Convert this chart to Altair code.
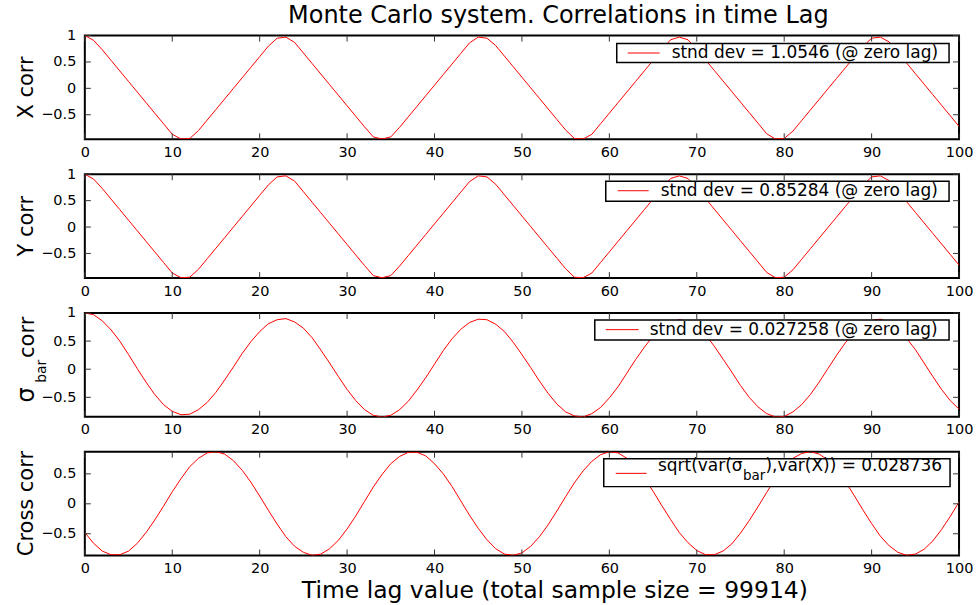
import altair as alt
import pandas as pd

# ---------------- data ----------------
x_corr = [
    1.00, 0.91, 0.73, 0.53, 0.33, 0.13, -0.07, -0.27, -0.47, -0.67,
    -0.87, -0.96, -0.95, -0.80, -0.60, -0.40, -0.20, 0.00, 0.20, 0.40,
    0.60, 0.80, 0.95, 0.97, 0.87, 0.67, 0.47, 0.27, 0.07, -0.13,
    -0.33, -0.53, -0.73, -0.92, -0.96, -0.92, -0.74, -0.54, -0.34, -0.14,
    0.06, 0.26, 0.46, 0.66, 0.86, 0.97, 0.95, 0.81, 0.61, 0.41,
    0.21, 0.01, -0.19, -0.39, -0.59, -0.79, -0.95, -0.96, -0.87, -0.67,
    -0.47, -0.27, -0.07, 0.13, 0.33, 0.53, 0.73, 0.92, 0.97, 0.92,
    0.74, 0.54, 0.34, 0.14, -0.06, -0.26, -0.46, -0.66, -0.86, -0.96,
    -0.95, -0.81, -0.61, -0.41, -0.21, -0.01, 0.19, 0.39, 0.59, 0.79,
    0.95, 0.97, 0.88, 0.68, 0.48, 0.28, 0.08, -0.12, -0.32, -0.52,
    -0.72,
]
y_corr = [
    1.00, 0.91, 0.73, 0.53, 0.33, 0.13, -0.07, -0.27, -0.47, -0.67,
    -0.87, -0.96, -0.95, -0.80, -0.60, -0.40, -0.20, 0.00, 0.20, 0.40,
    0.60, 0.80, 0.95, 0.97, 0.87, 0.67, 0.47, 0.27, 0.07, -0.13,
    -0.33, -0.53, -0.73, -0.92, -0.96, -0.92, -0.74, -0.54, -0.34, -0.14,
    0.06, 0.26, 0.46, 0.66, 0.86, 0.97, 0.95, 0.81, 0.61, 0.41,
    0.21, 0.01, -0.19, -0.39, -0.59, -0.79, -0.95, -0.96, -0.87, -0.67,
    -0.47, -0.27, -0.07, 0.13, 0.33, 0.53, 0.73, 0.92, 0.97, 0.92,
    0.74, 0.54, 0.34, 0.14, -0.06, -0.26, -0.46, -0.66, -0.86, -0.96,
    -0.95, -0.81, -0.61, -0.41, -0.21, -0.01, 0.19, 0.39, 0.59, 0.79,
    0.95, 0.97, 0.88, 0.68, 0.48, 0.28, 0.08, -0.12, -0.32, -0.52,
    -0.72,
]
sigma_corr = [
    1.00, 0.97, 0.86, 0.70, 0.50, 0.26, 0.01, -0.23, -0.45, -0.63,
    -0.75, -0.81, -0.80, -0.72, -0.59, -0.41, -0.19, 0.04, 0.28, 0.49,
    0.67, 0.81, 0.88, 0.90, 0.84, 0.73, 0.56, 0.34, 0.11, -0.13,
    -0.36, -0.56, -0.72, -0.82, -0.85, -0.82, -0.72, -0.57, -0.37, -0.15,
    0.09, 0.33, 0.54, 0.71, 0.83, 0.89, 0.88, 0.80, 0.67, 0.48,
    0.26, 0.03, -0.21, -0.43, -0.62, -0.76, -0.83, -0.85, -0.79, -0.68,
    -0.51, -0.31, -0.07, 0.17, 0.39, 0.59, 0.75, 0.84, 0.88, 0.85,
    0.76, 0.61, 0.41, 0.18, -0.05, -0.29, -0.50, -0.67, -0.79, -0.85,
    -0.84, -0.76, -0.63, -0.45, -0.23, 0.01, 0.25, 0.47, 0.65, 0.79,
    0.87, 0.89, 0.84, 0.72, 0.55, 0.35, 0.11, -0.13, -0.36, -0.56,
    -0.71,
]
cross_corr = [
    -0.48, -0.66, -0.79, -0.85, -0.85, -0.79, -0.66, -0.48, -0.27, -0.04,
    0.20, 0.42, 0.62, 0.76, 0.85, 0.87, 0.83, 0.72, 0.56, 0.36,
    0.13, -0.11, -0.34, -0.55, -0.71, -0.81, -0.86, -0.84, -0.75, -0.61,
    -0.42, -0.20, 0.04, 0.28, 0.49, 0.67, 0.79, 0.86, 0.86, 0.80,
    0.67, 0.50, 0.29, 0.05, -0.19, -0.41, -0.60, -0.75, -0.84, -0.86,
    -0.82, -0.71, -0.55, -0.35, -0.12, 0.12, 0.35, 0.55, 0.71, 0.82,
    0.87, 0.85, 0.76, 0.62, 0.43, 0.21, -0.03, -0.26, -0.48, -0.65,
    -0.78, -0.85, -0.85, -0.79, -0.67, -0.49, -0.28, -0.05, 0.19, 0.42,
    0.61, 0.76, 0.84, 0.87, 0.83, 0.73, 0.57, 0.37, 0.14, -0.10,
    -0.33, -0.54, -0.70, -0.81, -0.86, -0.84, -0.76, -0.62, -0.43, -0.21,
    0.03,
]

x_tick_values = [0, 10, 20, 30, 40, 50, 60, 70, 80, 90, 100]
y_tick_values = [-0.5, 0, 0.5, 1]
y_tick_values_cross = [-0.5, 0, 0.5]

y_domain_xy = [-0.966, 1.0]
y_domain_sigma = [-0.846, 1.0]
y_domain_cross = [-0.863, 0.87]

chart_title = "Monte Carlo system. Correlations in time Lag"
x_title = "Time lag value (total sample size = 99914)"
legend_x = "stnd dev = 1.0546 (@ zero lag)"
legend_y = "stnd dev = 0.85284 (@ zero lag)"
legend_sigma = "stnd dev = 0.027258 (@ zero lag)"
legend_cross_parts = ["sqrt(var(σ", "bar", "),var(X)) = 0.028736"]

# ---------------- styling ----------------
FONT = "DejaVu Sans"
RED = "#ff0000"
W, H = 876, 104
LABEL_SIZE = 14.5
one = pd.DataFrame({"k": [0]})


def text(s, x, y, size, angle=None, align="left", baseline="alphabetic"):
    kw = dict(text=s, font=FONT, fontSize=size, color="black",
              align=align, baseline=baseline)
    if angle is not None:
        kw["angle"] = angle
    return alt.Chart(one).mark_text(**kw).encode(x=alt.value(x), y=alt.value(y))


def seg(x, x2, y, y2, color, width=1.0, opacity=1.0):
    return alt.Chart(one).mark_rule(color=color, strokeWidth=width, opacity=opacity).encode(
        x=alt.value(x), x2=alt.value(x2), y=alt.value(y), y2=alt.value(y2))


def box(x, x2, y, y2):
    return alt.Chart(one).mark_rect(fill="white", stroke="black", strokeWidth=1.5).encode(
        x=alt.value(x), x2=alt.value(x2), y=alt.value(y), y2=alt.value(y2))


def panel(values, ydom, yticks, extras):
    df = pd.DataFrame({"lag": list(range(len(values))), "v": values})
    xs = alt.Scale(domain=[0, 100], nice=False, zero=False)
    ys = alt.Scale(domain=ydom, nice=False, zero=False)
    common = dict(title=None, ticks=False, domain=False, grid=False,
                  labelFont=FONT, labelFontSize=LABEL_SIZE, labelColor="black",
                  labelFlush=False, labelOverlap=False)
    x_axis = alt.Axis(values=x_tick_values, format="d", labelPadding=6, **common)
    y_axis = alt.Axis(values=yticks, format="~g", labelPadding=9, **common)
    line = alt.Chart(df).mark_line(color=RED, strokeWidth=1, clip=True).encode(
        x=alt.X("lag:Q", scale=xs, axis=x_axis),
        y=alt.Y("v:Q", scale=ys, axis=y_axis),
    )
    xt = pd.DataFrame({"t": x_tick_values})
    yt = pd.DataFrame({"t": yticks})
    tick = dict(color="#333333", strokeWidth=1)
    top = alt.Chart(xt).mark_rule(**tick).encode(
        x=alt.X("t:Q", scale=xs, axis=x_axis), y=alt.value(0), y2=alt.value(6))
    bottom = alt.Chart(xt).mark_rule(**tick).encode(
        x=alt.X("t:Q", scale=xs, axis=x_axis), y=alt.value(H), y2=alt.value(H - 6))
    left = alt.Chart(yt).mark_rule(**tick).encode(
        y=alt.Y("t:Q", scale=ys, axis=y_axis), x=alt.value(0), x2=alt.value(6))
    right = alt.Chart(yt).mark_rule(**tick).encode(
        y=alt.Y("t:Q", scale=ys, axis=y_axis), x=alt.value(W), x2=alt.value(W - 6))
    return alt.layer(line, top, bottom, left, right, *extras).properties(width=W, height=H)


p1 = panel(x_corr, y_domain_xy, y_tick_values, [
    box(533, 866, 8, 27),
    seg(544, 576, 17.5, 17.5, RED),
    text(legend_x, 588, 22.7, 17),
    text("X corr", -52, 52, 21, angle=270, align="center"),
    text(chart_title, 474.5, -12.3, 24, align="center"),
    seg(-84, 893, -34, -34, "white", opacity=0),
])
p2 = panel(y_corr, y_domain_xy, y_tick_values, [
    box(522, 866, 7, 27),
    seg(534, 565, 16.5, 16.5, RED),
    text(legend_y, 577, 22, 17),
    text("Y corr", -52, 52, 21, angle=270, align="center"),
])
p3 = panel(sigma_corr, y_domain_sigma, y_tick_values, [
    box(511, 866, 7, 27),
    seg(522, 555, 16.7, 16.7, RED),
    text(legend_sigma, 566, 22, 17),
    text("σ", -51, 82, 24, angle=270, align="center"),
    text("bar", -39, 70, 14, angle=270, align="left"),
    text("corr", -51, 45, 21, angle=270, align="left"),
])
p4 = panel(cross_corr, y_domain_cross, y_tick_values_cross, [
    box(520, 867, 7, 35),
    seg(532, 563, 21.7, 21.7, RED),
    text(legend_cross_parts[0], 574.3, 19.7, 17),
    text(legend_cross_parts[1], 659.5, 28.3, 13.5),
    text(legend_cross_parts[2], 682, 19.7, 17),
    text("Cross corr", -52, 52, 21, angle=270, align="center"),
    text(x_title, 471, 146.5, 23.5, align="center"),
    seg(0, 0, 154, 154, "white", opacity=0),
])

chart = alt.vconcat(p1, p2, p3, p4, spacing=35, bounds="flush").properties(
    padding=0, background="white"
).configure_view(stroke="black", strokeWidth=2)

chart.save("out.html", embed_options={"renderer": "svg", "actions": False})
